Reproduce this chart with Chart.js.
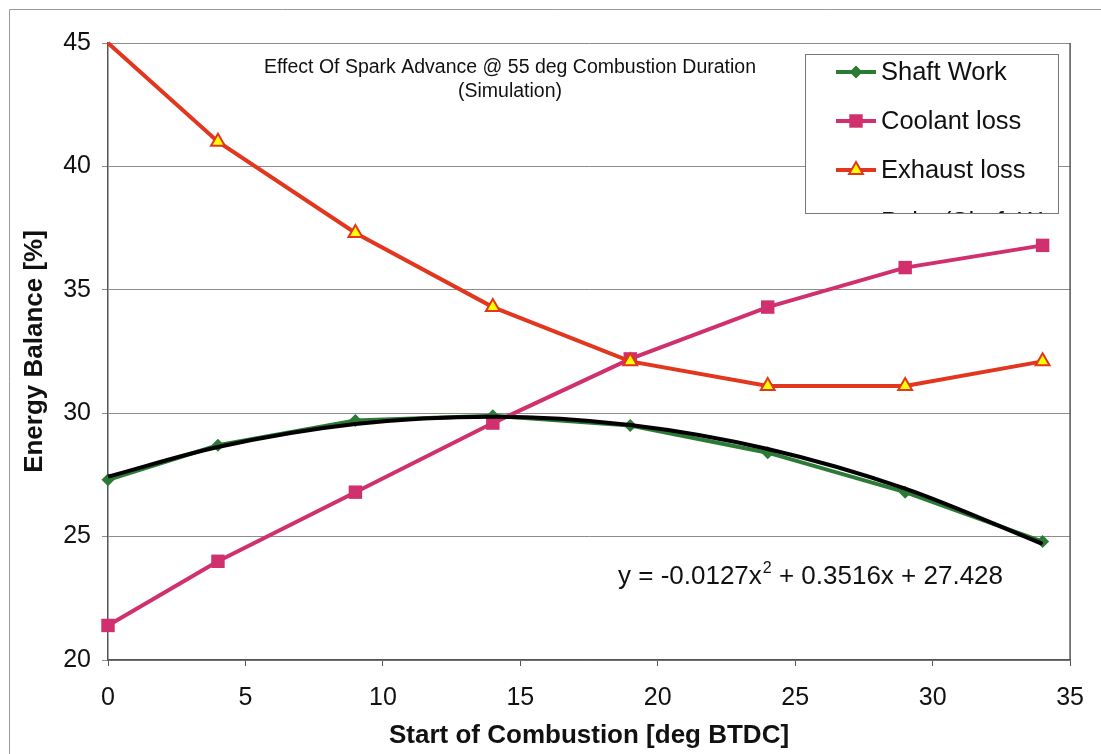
<!DOCTYPE html>
<html>
<head>
<meta charset="utf-8">
<title>Energy balance vs start of combustion</title>
<script src="https://cdn.jsdelivr.net/npm/chart.js"></script>
<style>
  html, body { margin: 0; padding: 0; background: #fff; }
  #wrap { width: 1101px; height: 754px; position: relative; }
</style>
</head>
<body>
<div id="wrap"><canvas id="energy"></canvas></div>
<script>
// ── data ──────────────────────────────────────────────────────────────
const xDeg        = [0, 4, 9, 14, 19, 24, 29, 34];
const shaftWork   = [27.3, 28.7, 29.7, 29.9, 29.5, 28.4, 26.8, 24.8];
const coolantLoss = [21.4, 24.0, 26.8, 29.6, 32.2, 34.3, 35.9, 36.8];
const exhaustLoss = [45.0, 41.0, 37.3, 34.3, 32.1, 31.1, 31.1, 32.1];
const trendCoef   = [-0.0127, 0.3516, 27.428];   // poly fit of shaft work
const xTicks      = [0, 5, 10, 15, 20, 25, 30, 35];
const yTicks      = [20, 25, 30, 35, 40, 45];
const titleLines  = ['Effect Of Spark Advance @ 55 deg Combustion Duration', '(Simulation)'];
const trendText   = ['y = -0.0127x', '2', ' + 0.3516x + 27.428'];

const FONT = "'Liberation Sans', Arial, sans-serif";
const GREEN = '#2b7a36', PINK = '#d0306d', RED = '#e2361e', YELLOW = '#ffff00';
const Y_MAX = yTicks[yTicks.length - 1];

const pts = ys => xDeg.map((x, i) => ({ x, y: ys[i] }));
const trendPts = xDeg.map(x => ({ x, y: trendCoef[0] * x * x + trendCoef[1] * x + trendCoef[2] }));

// legend markers, sized like chart.js draws them for the same radius
function drawMarker(ctx, style, x, y, r, fill, stroke, bw) {
  const s = r * Math.SQRT1_2;
  ctx.save();
  ctx.beginPath();
  if (style === 'rectRot') {
    ctx.moveTo(x, y - r); ctx.lineTo(x + r, y); ctx.lineTo(x, y + r); ctx.lineTo(x - r, y);
  } else if (style === 'rect') {
    ctx.rect(x - s, y - s, 2 * s, 2 * s);
  } else if (style === 'triangle') {
    ctx.moveTo(x, y - r); ctx.lineTo(x + r * 0.866, y + r / 2); ctx.lineTo(x - r * 0.866, y + r / 2);
  }
  ctx.closePath();
  ctx.fillStyle = fill; ctx.fill();
  if (bw) { ctx.lineWidth = bw; ctx.strokeStyle = stroke; ctx.stroke(); }
  ctx.restore();
}

const chartDecor = {
  id: 'chartDecor',
  beforeDraw(chart) {
    const { ctx, width, height } = chart;
    ctx.save();
    ctx.fillStyle = '#ffffff';
    ctx.fillRect(0, 0, width, height);
    // page frame
    ctx.strokeStyle = '#9a9a9a'; ctx.lineWidth = 1;
    ctx.beginPath();
    ctx.moveTo(9.5, height); ctx.lineTo(9.5, 9.5); ctx.lineTo(width, 9.5);
    ctx.stroke();
    ctx.restore();
  },
  afterDraw(chart) {
    const { ctx, chartArea: a } = chart;
    ctx.save();
    // right border of the plot
    ctx.strokeStyle = '#555'; ctx.lineWidth = 1.5;
    ctx.beginPath(); ctx.moveTo(a.right, a.top); ctx.lineTo(a.right, a.bottom); ctx.stroke();

    // title inside the plot
    ctx.fillStyle = '#111';
    ctx.font = `19.5px ${FONT}`;
    ctx.textAlign = 'center'; ctx.textBaseline = 'alphabetic';
    ctx.fillText(titleLines[0], 510, 73);
    ctx.fillText(titleLines[1], 510, 97);

    // trendline equation with superscript
    ctx.textAlign = 'left';
    let x = 618;
    ctx.font = `26px ${FONT}`;
    ctx.fillText(trendText[0], x, 584);
    x += ctx.measureText(trendText[0]).width;
    ctx.font = `16px ${FONT}`;
    ctx.fillText(trendText[1], x + 1, 573);
    x += ctx.measureText(trendText[1]).width + 1;
    ctx.font = `26px ${FONT}`;
    ctx.fillText(trendText[2], x, 584);

    // legend box (last entry cut off by the box edge)
    const bx = 805, by = 54, bw = 253, bh = 159;
    ctx.fillStyle = '#ffffff';
    ctx.fillRect(bx, by, bw, bh);
    ctx.strokeStyle = '#777'; ctx.lineWidth = 1;
    ctx.strokeRect(bx + 0.5, by + 0.5, bw, bh);
    ctx.beginPath(); ctx.rect(bx + 1, by + 1, bw - 1, bh - 1); ctx.clip();
    const rows = [72, 121, 170, 222];
    ctx.font = `25.5px ${FONT}`;
    ctx.textBaseline = 'middle';
    chart.data.datasets.forEach((ds, i) => {
      const y = rows[i];
      ctx.strokeStyle = ds.borderColor; ctx.lineWidth = ds.borderWidth;
      ctx.beginPath(); ctx.moveTo(836, y); ctx.lineTo(876, y); ctx.stroke();
      if (ds.legendRadius) {
        drawMarker(ctx, ds.pointStyle, 856, y, ds.legendRadius, ds.pointBackgroundColor,
                   ds.pointBorderColor, ds.pointBorderWidth);
      }
      ctx.fillStyle = '#111';
      ctx.fillText(ds.label, 881, y + 1);
    });
    ctx.restore();
  }
};

new Chart(document.getElementById('energy'), {
  type: 'line',
  data: {
    datasets: [
      {
        label: 'Shaft Work', data: pts(shaftWork), order: 3, clip: false,
        borderColor: GREEN, borderWidth: 4, tension: 0,
        pointStyle: 'rectRot', pointRadius: 6.5, legendRadius: 6.5,
        pointBackgroundColor: GREEN, pointBorderColor: GREEN, pointBorderWidth: 0,
      },
      {
        label: 'Coolant loss', data: pts(coolantLoss), order: 2, clip: false,
        borderColor: PINK, borderWidth: 4, tension: 0,
        pointStyle: 'rect', pointRadius: 9.5, legendRadius: 9.5,
        pointBackgroundColor: PINK, pointBorderColor: PINK, pointBorderWidth: 0,
      },
      {
        label: 'Exhaust loss', data: pts(exhaustLoss), order: 1, clip: false,
        borderColor: RED, borderWidth: 4, tension: 0,
        // markers on the top edge of the scale are not drawn
        pointStyle: 'triangle', pointRadius: c => (c.parsed && c.parsed.y >= Y_MAX ? 0 : 8),
        legendRadius: 8,
        pointBackgroundColor: YELLOW, pointBorderColor: RED, pointBorderWidth: 2,
      },
      {
        label: 'Poly. (Shaft Work)', data: trendPts, order: 0, clip: false,
        borderColor: '#000', borderWidth: 4, cubicInterpolationMode: 'monotone',
        pointRadius: 0, legendRadius: 0,
      },
    ]
  },
  options: {
    responsive: true, maintainAspectRatio: false, animation: false,
    layout: { padding: { left: 0, top: 43, right: 30, bottom: 0 } },
    plugins: { legend: { display: false }, tooltip: { enabled: false } },
    scales: {
      x: {
        type: 'linear', min: 0, max: 35,
        afterBuildTicks: s => { s.ticks = xTicks.map(v => ({ value: v })); },
        afterFit: s => { s.height = 94; },
        grid: { drawOnChartArea: false, drawTicks: true, tickLength: 6, color: '#555' },
        border: { display: true, color: '#555', width: 1.5 },
        ticks: { color: '#111', padding: 17, maxRotation: 0, font: { family: FONT, size: 25 } },
        title: {
          display: true, text: 'Start of Combustion [deg BTDC]', color: '#111',
          padding: { top: 0, bottom: 3 }, font: { family: FONT, size: 26, weight: 'bold' }
        }
      },
      y: {
        type: 'linear', min: 20, max: Y_MAX,
        afterBuildTicks: s => { s.ticks = yTicks.map(v => ({ value: v })); },
        afterFit: s => { s.width = 108; },
        grid: { color: '#8c8c8c', lineWidth: 1, tickLength: 6 },
        border: { display: true, color: '#555', width: 1.5 },
        ticks: { color: '#111', padding: 11, font: { family: FONT, size: 25 } },
        title: {
          display: true, text: 'Energy Balance [%]', color: '#111',
          padding: { top: 19, bottom: 0 }, font: { family: FONT, size: 26, weight: 'bold' }
        }
      }
    }
  },
  plugins: [chartDecor]
});
</script>
</body>
</html>
